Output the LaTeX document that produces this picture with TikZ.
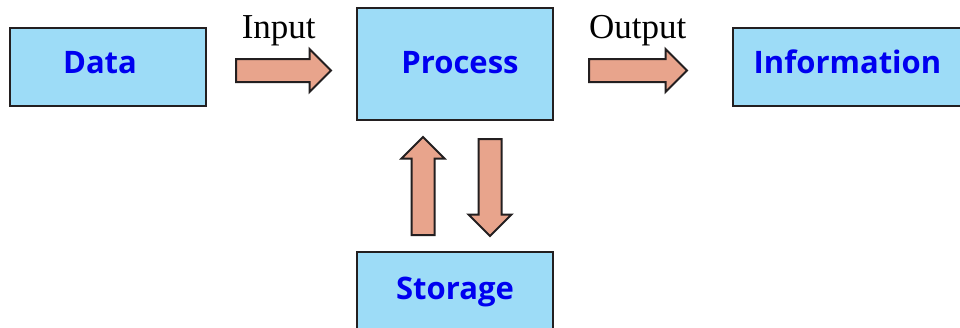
\documentclass[tikz,border=0pt]{standalone}
\usepackage{fontspec}
\usetikzlibrary{shapes,shapes.arrows,positioning}
\newfontfamily\boxfont{Open Sans}
\newfontfamily\labelfont{Liberation Serif}
\definecolor{boxblue}{HTML}{9DDCF7}
\definecolor{arrowpink}{HTML}{E8A48C}
\definecolor{edgegray}{HTML}{231F20}
\definecolor{textblue}{HTML}{0000F0}

\begin{document}
\begin{tikzpicture}[
    x=1pt, y=-1pt,
    box/.style ={
        rectangle, draw=edgegray, line width=2pt, fill=boxblue,
        minimum width=196pt, minimum height=78pt, inner sep=0pt,
        text=textblue, font=\boxfont\fontsize{31}{36}\selectfont\bfseries,
        text height=23pt, text depth=11pt,
    },
    blockarrow/.style={
        single arrow, draw=edgegray, line width=2pt, fill=arrowpink,
        inner xsep=0pt, inner ysep=10.5pt, single arrow head extend=10pt,
        single arrow tip angle=90, minimum height=#1, anchor=tail,
    },
    word/.style={font=\labelfont\fontsize{35}{40}\selectfont, text=black, label distance=9pt},
    ]
    \clip (0,0) rectangle (960,327);

    % boxes
    \node[box] (data) at (108,67) {\hspace*{-16pt}Data};
    \node[box, minimum height=112pt, text depth=4pt] (process) at (455,64) {\hspace*{10pt}Process};
    \node[box, minimum width=229pt] (information) at (847.5,67) {Information};
    \node[box, minimum height=82pt] (storage) at (455,293) {Storage};

    % block arrows
    \node[blockarrow=95pt, label={[word, xshift=1pt]above:Input}] (input) at (235,70.5) {};
    \node[blockarrow=98pt, label={[word, xshift=5.5pt]above:Output}] (output) at (588,70.5) {};
    \node[blockarrow=98pt, rotate=90] (fetch) at (423,236) {};
    \node[blockarrow=97pt, rotate=-90] (store) at (490,138) {};

\end{tikzpicture}
\end{document}
